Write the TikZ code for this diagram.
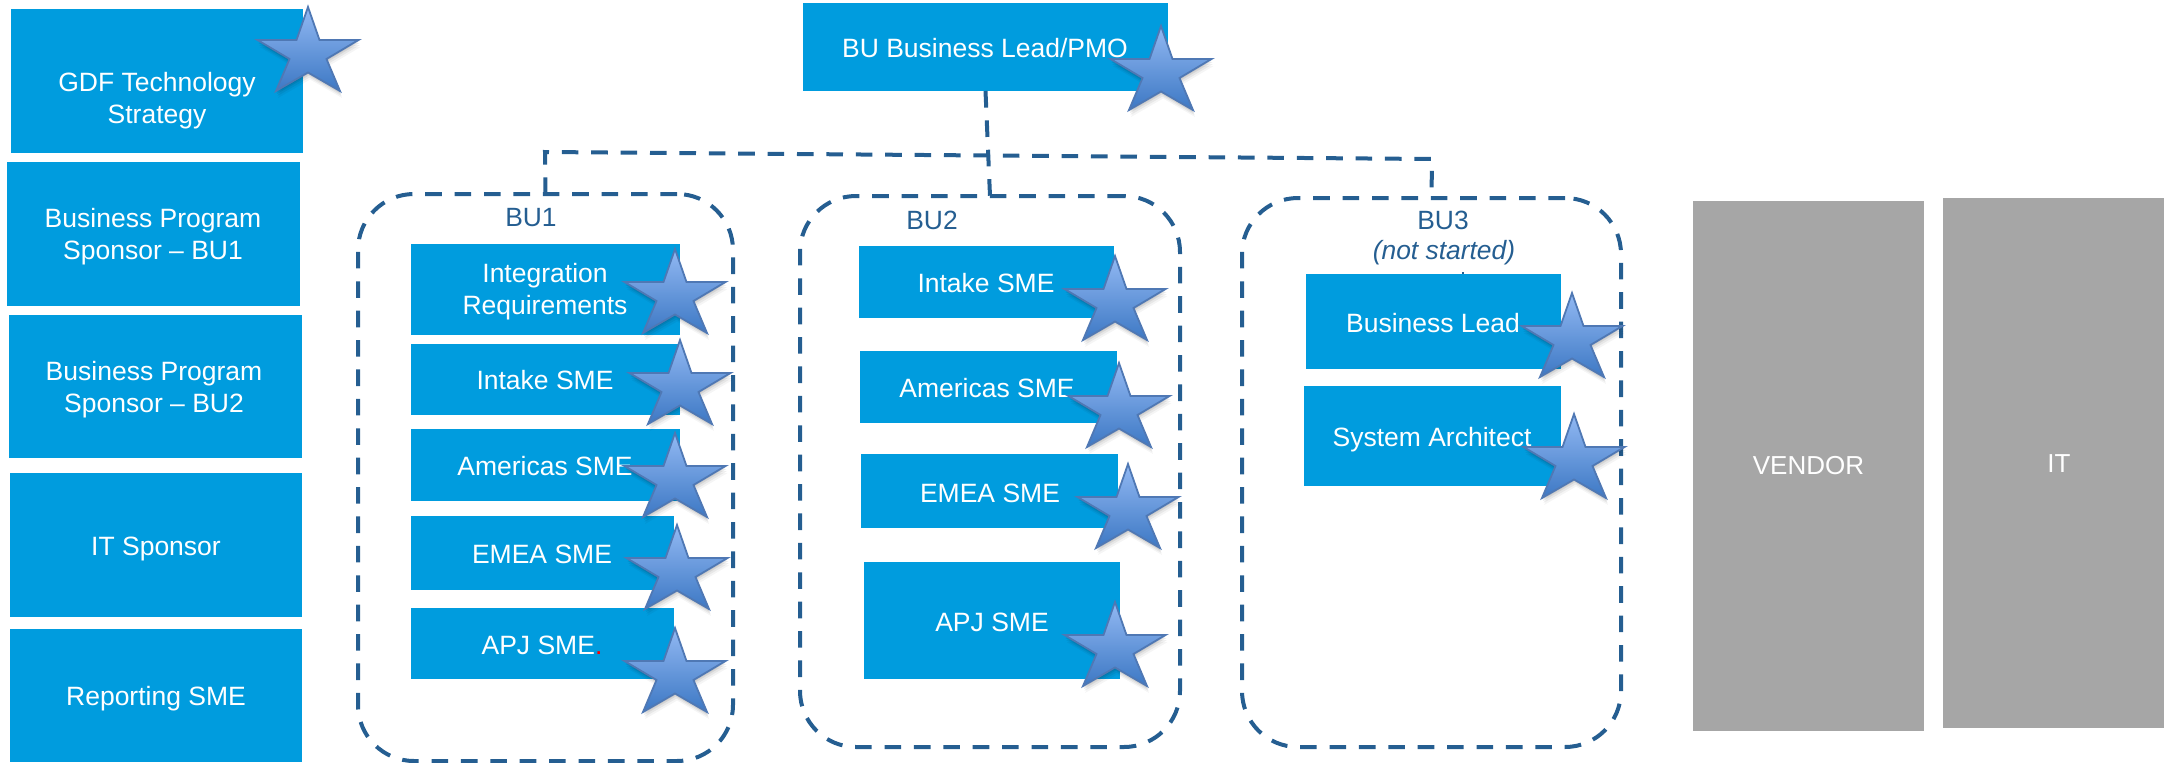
\documentclass[tikz,border=0pt]{standalone}
\usepackage{fontspec}
\setmainfont{Liberation Sans}
\definecolor{boxblue}{HTML}{009CDE}
\definecolor{dashblue}{HTML}{255E91}
\definecolor{greybox}{HTML}{A6A6A6}
\definecolor{starTop}{HTML}{92B9F3}
\definecolor{starBot}{HTML}{3D78C4}
\definecolor{starEdge}{HTML}{4F78B4}
\tikzset{
  x=0.5pt,y=-0.5pt,
  bluebox/.style={fill=boxblue,draw=none,inner sep=0pt,outer sep=0pt},
  greyrect/.style={fill=greybox,draw=none,inner sep=0pt,outer sep=0pt},
  boxtext/.style={text=white,align=center,font=\fontsize{13.25}{16}\selectfont,inner sep=0pt},
  grouplabel/.style={text=dashblue,align=center,font=\fontsize{13.2}{16}\selectfont,inner sep=0pt},
  grouprect/.style={draw=dashblue,line width=2pt,dash pattern=on 8.3pt off 6.4pt,rounded corners=28pt,inner sep=0pt,outer sep=0pt},
  dashlink/.style={draw=dashblue,line width=2pt,dash pattern=on 8.3pt off 6.4pt},
}
% \rectnode{style}{name}{x1}{y1}{x2}{y2}: an empty node filling that pixel rectangle
\newcommand{\rectnode}[6]{%
  \pgfmathsetmacro{\rw}{(#5-#3)*0.5}%
  \pgfmathsetmacro{\rh}{(#6-#4)*0.5}%
  \pgfmathsetmacro{\rx}{(#3+#5)/2}%
  \pgfmathsetmacro{\ry}{(#4+#6)/2}%
  \node[#1,minimum width=\rw pt,minimum height=\rh pt] (#2) at (\rx,\ry) {};}
\newcommand{\boxlabel}[4]{\node[boxtext] (#1) at (#2,#3) {#4};}
\newcommand{\starshape}{%
  (0,0) -- (11.5,33) -- (50.5,33) -- (18.5,52) -- (32,84) -- (0,65.5) -- (-32,84) -- (-18.5,52) -- (-50.5,33) -- (-11.5,33) -- cycle}
\newcommand{\starat}[2]{%
  \begin{scope}[shift={(#1,#2)}]
    \foreach \d/\o in {7/0.04,5/0.06,3/0.08,1.5/0.08}{
      \fill[black,opacity=\o,shift={(\d*0.3,\d)}] \starshape;
    }
    \shade[top color=starTop,bottom color=starBot,draw=starEdge,line width=0.9pt] \starshape;
  \end{scope}}
\begin{document}
\begin{tikzpicture}
\useasboundingbox (0,0) rectangle (2164,762);
% left column
\rectnode{bluebox}{gdf}{11}{9}{303}{153}
\rectnode{bluebox}{sp1}{7}{162}{300}{306}
\rectnode{bluebox}{sp2}{9}{315}{302}{458}
\rectnode{bluebox}{its}{10}{473}{302}{617}
\rectnode{bluebox}{rep}{10}{629}{302}{762}
\boxlabel{tgdf}{157}{101}{GDF Technology\\Strategy}
\boxlabel{tsp1}{153}{237}{Business Program\\Sponsor – BU1}
\boxlabel{tsp2}{154}{390}{Business Program\\Sponsor – BU2}
\boxlabel{tits}{156}{549}{IT Sponsor}
\boxlabel{trep}{156}{699}{Reporting SME}
% top box
\rectnode{bluebox}{lead}{803}{3}{1168}{91}
\boxlabel{tlead}{985}{48}{BU Business Lead/PMO}
% groups
\rectnode{grouprect}{bu1}{358}{194}{733}{761}
\rectnode{grouprect}{bu2}{800}{196}{1180}{747}
\rectnode{grouprect}{bu3}{1242}{198}{1621}{747}
\coordinate (busL) at (545,152);
\coordinate (busR) at (1432,159);
\draw[dashlink] (lead.south) -- (bu2.north);
\draw[dashlink] (bu1.north) -- (busL) -- (busR) -- (bu3.north);
\node[grouplabel] (lbu1) at (531,218) {BU1};
\node[grouplabel] (lbu2) at (932,220) {BU2};
\node[grouplabel] (lbu3) at (1443,220) {BU3};
\node[grouplabel] (lns) at (1444,253) {\itshape (not started)};
\draw[dashblue,line width=0.6pt] (1463,272) -- (1463,275);
% BU1 column
\rectnode{bluebox}{a1}{411}{244}{680}{335}
\rectnode{bluebox}{a2}{411}{344}{680}{415}
\rectnode{bluebox}{a3}{411}{429}{680}{501}
\rectnode{bluebox}{a4}{411}{516}{674}{590}
\rectnode{bluebox}{a5}{411}{608}{674}{679}
\boxlabel{ta1}{545}{292}{Integration\\Requirements}
\boxlabel{ta2}{545}{380}{Intake SME}
\boxlabel{ta3}{545}{466}{Americas SME}
\boxlabel{ta4}{542}{554}{EMEA SME}
\boxlabel{ta5}{542}{645}{APJ SME\textcolor{red}{.}}
% BU2 column
\rectnode{bluebox}{b1}{859}{246}{1114}{318}
\rectnode{bluebox}{b2}{860}{351}{1117}{423}
\rectnode{bluebox}{b3}{861}{454}{1118}{528}
\rectnode{bluebox}{b4}{864}{562}{1120}{679}
\boxlabel{tb1}{986}{283}{Intake SME}
\boxlabel{tb2}{987}{388}{Americas SME}
\boxlabel{tb3}{990}{493}{EMEA SME}
\boxlabel{tb4}{992}{622}{APJ SME}
% BU3 column
\rectnode{bluebox}{c1}{1306}{274}{1561}{369}
\rectnode{bluebox}{c2}{1304}{386}{1561}{486}
\boxlabel{tc1}{1433}{323}{Business Lead}
\boxlabel{tc2}{1432}{440}{System Architect}
% grey
\rectnode{greyrect}{vendor}{1693}{201}{1924}{731}
\rectnode{greyrect}{it}{1943}{198}{2164}{728}
\node[boxtext,font=\fontsize{13}{16}\selectfont] (tv) at (1808.5,466) {VENDOR};
\node[boxtext,font=\fontsize{13}{16}\selectfont] (ti) at (2059,464) {IT};
% stars
\starat{308}{7}
\starat{1161}{26}
\starat{675}{249}
\starat{680}{340}
\starat{675}{433}
\starat{677}{525}
\starat{675}{628}
\starat{1115}{256}
\starat{1119}{363}
\starat{1128}{464}
\starat{1115}{602}
\starat{1572}{293}
\starat{1574}{414}
\end{tikzpicture}
\end{document}
